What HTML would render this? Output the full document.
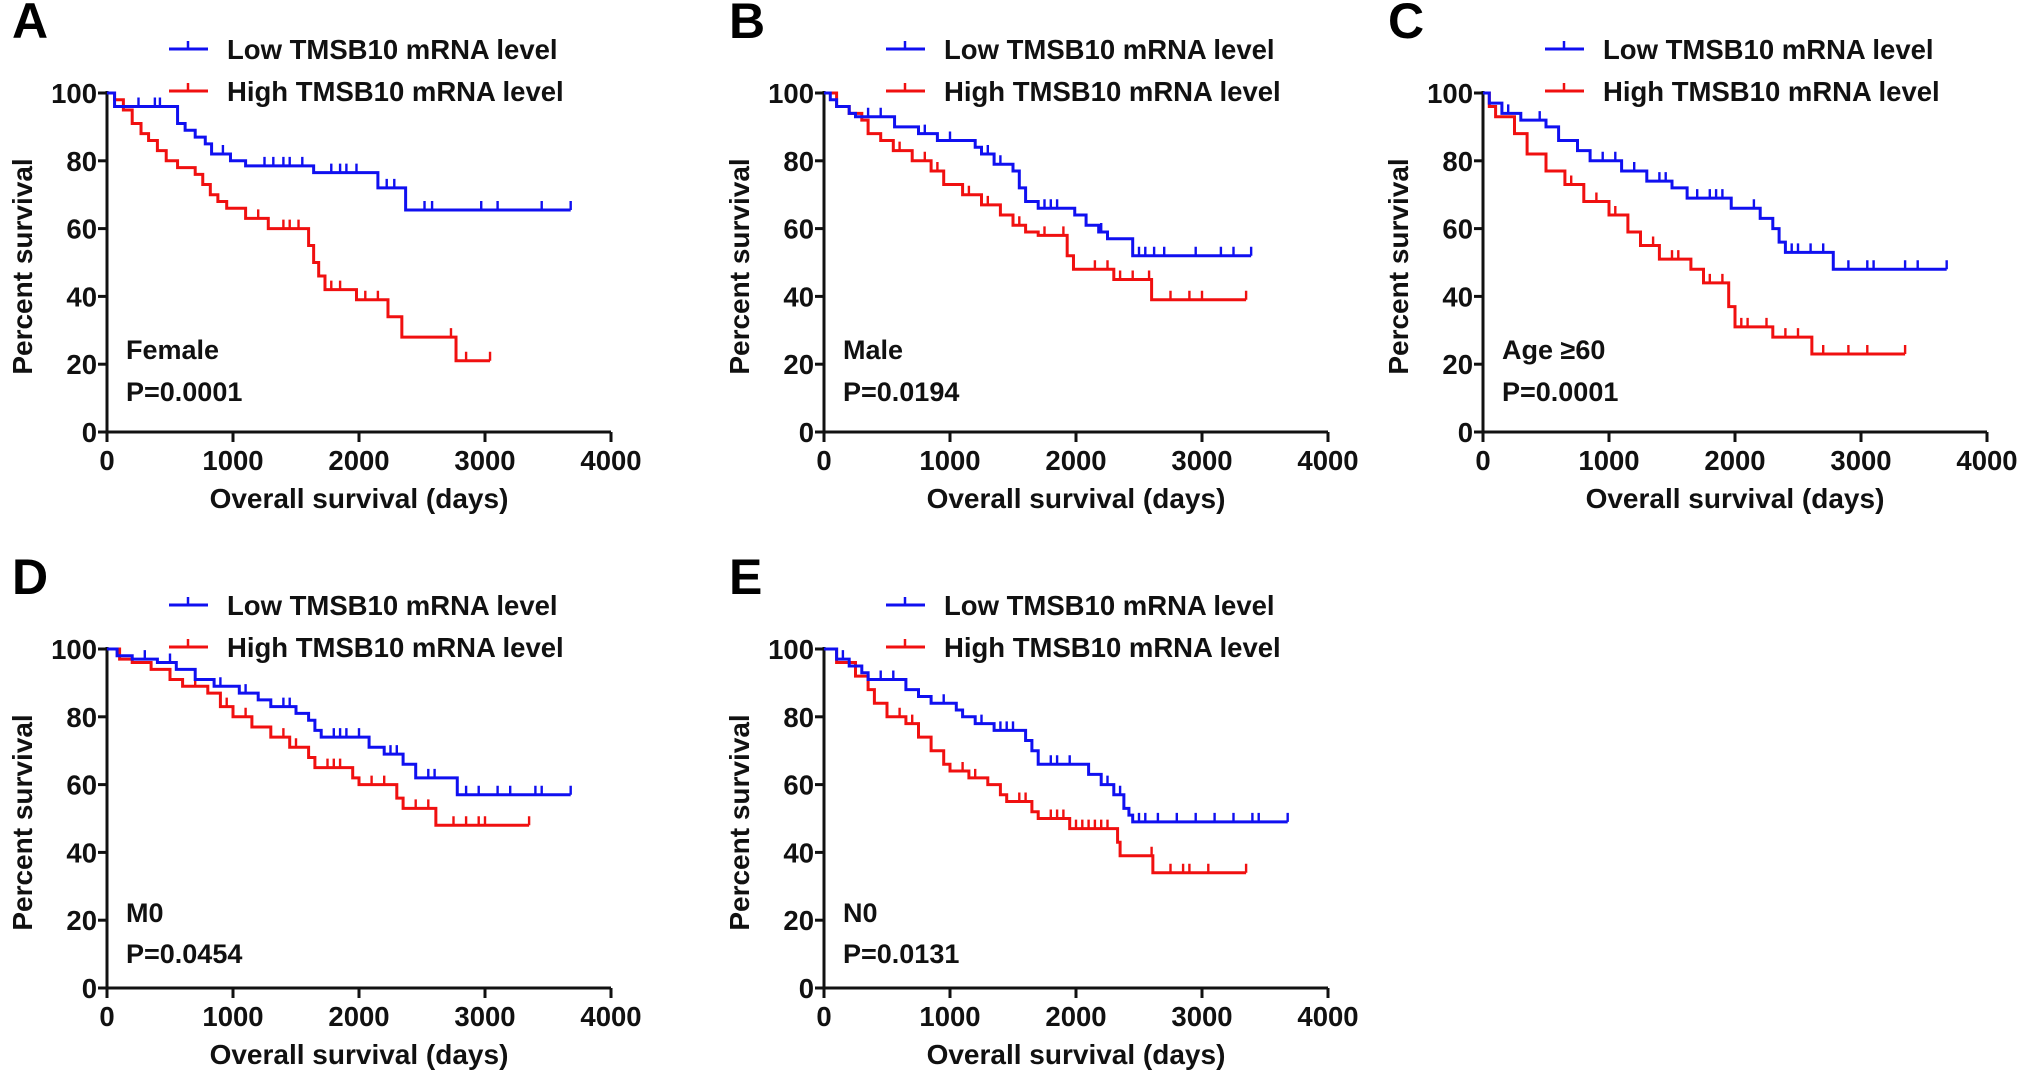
<!DOCTYPE html>
<html><head><meta charset="utf-8"><style>
html,body{margin:0;padding:0;background:#fff;}
svg{display:block;font-family:"Liberation Sans",Arial,sans-serif;font-weight:bold;}
</style></head><body>
<svg id="fig" width="2031" height="1083" viewBox="0 0 2031 1083" xmlns="http://www.w3.org/2000/svg"></svg>
<script>
const xTicks = [0, 1000, 2000, 3000, 4000];
const yTicks = [0, 20, 40, 60, 80, 100];
const legendLabels = ["Low TMSB10 mRNA level", "High TMSB10 mRNA level"];

// Panel A (Female)
const aLowT = [0, 60, 480, 560, 620, 700, 780, 830, 980, 1100, 1640, 2150, 2370];
const aLowS = [100, 96, 96, 91, 89, 87, 85, 82, 80, 78.5, 76.5, 72, 65.5];
const aLowEnd = 3680;
const aLowC = [250, 380, 420, 920, 1250, 1320, 1400, 1450, 1550, 1780, 1850, 1900, 1980, 2220, 2280, 2520, 2580, 2970, 3100, 3450, 3680];
const aHighT = [0, 60, 130, 200, 270, 330, 400, 470, 560, 700, 760, 820, 880, 950, 1100, 1280, 1600, 1640, 1680, 1730, 1980, 2230, 2340, 2770];
const aHighS = [100, 98, 95, 91, 88, 86, 83, 80, 78, 76, 73, 70, 68, 66, 63, 60, 55, 50, 46, 42, 39, 34, 28, 21];
const aHighEnd = 3040;
const aHighC = [1200, 1400, 1450, 1520, 1780, 1850, 2050, 2150, 2730, 2850, 3040];

// Panel B (Male)
const bLowT = [0, 50, 100, 200, 250, 530, 560, 750, 900, 1200, 1250, 1350, 1500, 1550, 1600, 1700, 1990, 2080, 2180, 2250, 2450];
const bLowS = [100, 98, 96, 94, 93, 93, 90, 88, 86, 84, 82, 79, 77, 72, 68, 66, 64, 61, 59, 57, 52];
const bLowEnd = 3390;
const bLowC = [350, 450, 800, 1000, 1300, 1400, 1750, 1800, 1850, 2200, 2500, 2550, 2620, 2700, 2950, 3150, 3250, 3390];
const bHighT = [0, 100, 200, 300, 350, 450, 550, 700, 850, 950, 1100, 1250, 1400, 1500, 1600, 1700, 1930, 1980, 2300, 2600];
const bHighS = [100, 96, 94, 92, 88, 86, 83, 80, 77, 73, 70, 67, 64, 61, 59, 58, 52, 48, 45, 39];
const bHighEnd = 3350;
const bHighC = [600, 800, 900, 1150, 1300, 1500, 1550, 1750, 1900, 2150, 2250, 2350, 2450, 2580, 2750, 2900, 3000, 3350];

// Panel C (Age >= 60)
const cLowT = [0, 50, 150, 300, 500, 600, 750, 850, 1100, 1300, 1500, 1620, 1970, 2200, 2300, 2350, 2400, 2780];
const cLowS = [100, 97, 94, 92, 90, 86, 83, 80, 77, 74, 72, 69, 66, 63, 60, 56, 53, 48];
const cLowEnd = 3680;
const cLowC = [200, 450, 950, 1050, 1200, 1400, 1450, 1700, 1800, 1850, 1900, 2150, 2450, 2500, 2600, 2700, 2900, 3050, 3100, 3350, 3450, 3680];
const cHighT = [0, 50, 100, 250, 350, 500, 650, 800, 1000, 1150, 1250, 1400, 1650, 1750, 1950, 2000, 2300, 2610];
const cHighS = [100, 96, 93, 88, 82, 77, 73, 68, 64, 59, 55, 51, 48, 44, 37, 31, 28, 23];
const cHighEnd = 3350;
const cHighC = [700, 900, 1050, 1350, 1500, 1550, 1800, 1900, 2050, 2100, 2250, 2400, 2500, 2700, 2900, 3050, 3350];

// Panel D (M0)
const dLowT = [0, 80, 200, 400, 550, 700, 850, 1050, 1200, 1300, 1500, 1600, 1650, 1700, 2080, 2200, 2350, 2450, 2780];
const dLowS = [100, 98, 97, 96, 94, 91, 89, 87, 85, 83, 81, 79, 76, 74, 71, 69, 66, 62, 57];
const dLowEnd = 3680;
const dLowC = [300, 500, 900, 1100, 1400, 1450, 1800, 1850, 1900, 2000, 2250, 2300, 2550, 2600, 2850, 2950, 3100, 3200, 3400, 3450, 3680];
const dHighT = [0, 100, 200, 350, 500, 600, 800, 900, 1000, 1150, 1300, 1450, 1600, 1650, 1950, 2000, 2300, 2350, 2610];
const dHighS = [100, 97, 96, 94, 91, 89, 87, 83, 80, 77, 74, 71, 68, 65, 62, 60, 56, 53, 48];
const dHighEnd = 3350;
const dHighC = [700, 950, 1100, 1400, 1500, 1750, 1800, 1850, 2100, 2200, 2450, 2550, 2750, 2850, 2950, 3000, 3350];

// Panel E (N0)
const eLowT = [0, 100, 200, 300, 350, 650, 750, 850, 1050, 1100, 1200, 1350, 1600, 1650, 1700, 2100, 2200, 2300, 2380, 2420, 2450];
const eLowS = [100, 97, 95, 93, 91, 88, 86, 84, 82, 80, 78, 76, 73, 70, 66, 63, 60, 57, 53, 51, 49];
const eLowEnd = 3680;
const eLowC = [150, 450, 550, 950, 1250, 1400, 1450, 1500, 1800, 1850, 1950, 2250, 2350, 2500, 2550, 2650, 2800, 2950, 3100, 3250, 3400, 3450, 3680];
const eHighT = [0, 100, 250, 350, 400, 500, 650, 750, 850, 950, 1000, 1150, 1300, 1400, 1450, 1650, 1700, 1950, 2330, 2350, 2610];
const eHighS = [100, 96, 92, 88, 84, 80, 78, 74, 70, 66, 64, 62, 60, 57, 55, 52, 50, 47, 43, 39, 34];
const eHighEnd = 3350;
const eHighC = [600, 700, 1100, 1200, 1550, 1600, 1800, 1850, 1900, 2000, 2050, 2100, 2150, 2200, 2250, 2600, 2750, 2850, 2900, 3050, 3350];

const panels = [
  {id:"a", letter:"A", x0:107, y0:432, ly:-73, py:-31, label:"Female", p:"P=0.0001", low:[aLowT,aLowS,aLowEnd,aLowC], high:[aHighT,aHighS,aHighEnd,aHighC]},
  {id:"b", letter:"B", x0:824, y0:432, ly:-73, py:-31, label:"Male", p:"P=0.0194", low:[bLowT,bLowS,bLowEnd,bLowC], high:[bHighT,bHighS,bHighEnd,bHighC]},
  {id:"c", letter:"C", x0:1483, y0:432, ly:-73, py:-31, label:"Age \u226560", p:"P=0.0001", low:[cLowT,cLowS,cLowEnd,cLowC], high:[cHighT,cHighS,cHighEnd,cHighC]},
  {id:"d", letter:"D", x0:107, y0:988, ly:-66, py:-25, label:"M0", p:"P=0.0454", low:[dLowT,dLowS,dLowEnd,dLowC], high:[dHighT,dHighS,dHighEnd,dHighC]},
  {id:"e", letter:"E", x0:824, y0:988, ly:-66, py:-25, label:"N0", p:"P=0.0131", low:[eLowT,eLowS,eLowEnd,eLowC], high:[eHighT,eHighS,eHighEnd,eHighC]}
];
const W = 504, H = 339, XMAX = 4000, YMAX = 100;
const BLUE = "#1010f0", RED = "#f01010";
const NS = "http://www.w3.org/2000/svg";
const svg = document.getElementById("fig");
function mk(tag, attrs, parent, text){
  const e = document.createElementNS(NS, tag);
  for (const k in attrs) e.setAttribute(k, attrs[k]);
  if (text !== undefined) e.textContent = text;
  parent.appendChild(e);
  return e;
}
function survAt(T, S, t){ let s = S[0]; for (let i=0;i<T.length;i++){ if (T[i] <= t) s = S[i]; } return s; }

panels.forEach(P => {
  const sx = v => P.x0 + v / XMAX * W;
  const sy = v => P.y0 - v / YMAX * H;
  const g = mk("g", {}, svg);
  
  

  const lt = mk("text", {x:P.x0-95, y:P.y0-394, "font-size":50}, g, P.letter);
  
  

  const ax = mk("path", {d:`M${P.x0} ${sy(100)-2} V${P.y0} H${sx(4000)}`, stroke:"#111", "stroke-width":3, fill:"none"}, g);
  
  
  yTicks.forEach(v => {
    mk("line", {x1:P.x0-9, x2:P.x0, y1:sy(v), y2:sy(v), stroke:"#111", "stroke-width":3}, g);
    const t = mk("text", {x:P.x0-10, y:sy(v)+10, "font-size":27.5, "text-anchor":"end", fill:"#111"}, g, String(v));
    
    
  });
  xTicks.forEach(v => {
    mk("line", {x1:sx(v), x2:sx(v), y1:P.y0, y2:P.y0+10, stroke:"#111", "stroke-width":3}, g);
    const t = mk("text", {x:sx(v), y:P.y0+38, "font-size":27.5, "text-anchor":"middle", fill:"#111"}, g, String(v));
    
    
  });
  const xt = mk("text", {x:P.x0+W/2, y:P.y0+76, "font-size":28, "text-anchor":"middle", fill:"#111"}, g, "Overall survival (days)");
  
  
  const cy = P.y0 - H/2 + 4;
  const yt = mk("text", {x:P.x0-75, y:cy, "font-size":28, "text-anchor":"middle", fill:"#111", transform:`rotate(-90 ${P.x0-75} ${cy})`}, g, "Percent survival");
  
  

  const lb = mk("text", {x:P.x0+19, y:P.y0+P.ly, "font-size":27, fill:"#111"}, g, P.label);
  
  
  const pv = mk("text", {x:P.x0+19, y:P.y0+P.py, "font-size":27, fill:"#111"}, g, P.p);
  
  

  [[BLUE, P.y0-383], [RED, P.y0-341]].forEach((c, i) => {
    const lg = mk("g", {}, g);
    
    
    mk("line", {x1:P.x0+62, x2:P.x0+101, y1:c[1], y2:c[1], stroke:c[0], "stroke-width":3}, lg);
    mk("line", {x1:P.x0+81, x2:P.x0+81, y1:c[1]-8, y2:c[1], stroke:c[0], "stroke-width":2.5}, lg);
    mk("text", {x:P.x0+120, y:c[1]+10, "font-size":27.5, fill:"#111"}, lg, legendLabels[i]);
  });

  [[P.high, RED, 'high'], [P.low, BLUE, 'low']].forEach(([ser, col, nm]) => {
    const [T, S, end, C] = ser;
    let d = `M${sx(T[0])} ${sy(S[0])}`;
    for (let i=1;i<T.length;i++){ d += ` H${sx(T[i])} V${sy(S[i])}`; }
    d += ` H${sx(end)}`;
    const ln = mk("path", {d:d, stroke:col, "stroke-width":3, fill:"none"}, g);
    
    
    let cd = "";
    C.forEach(t => { const y = sy(survAt(T, S, t)); cd += `M${sx(t)} ${y} V${y-9} `; });
    const ce = mk("path", {d:cd, stroke:col, "stroke-width":2.4, fill:"none"}, g);
    
    
  });
});
</script>
</body></html>
